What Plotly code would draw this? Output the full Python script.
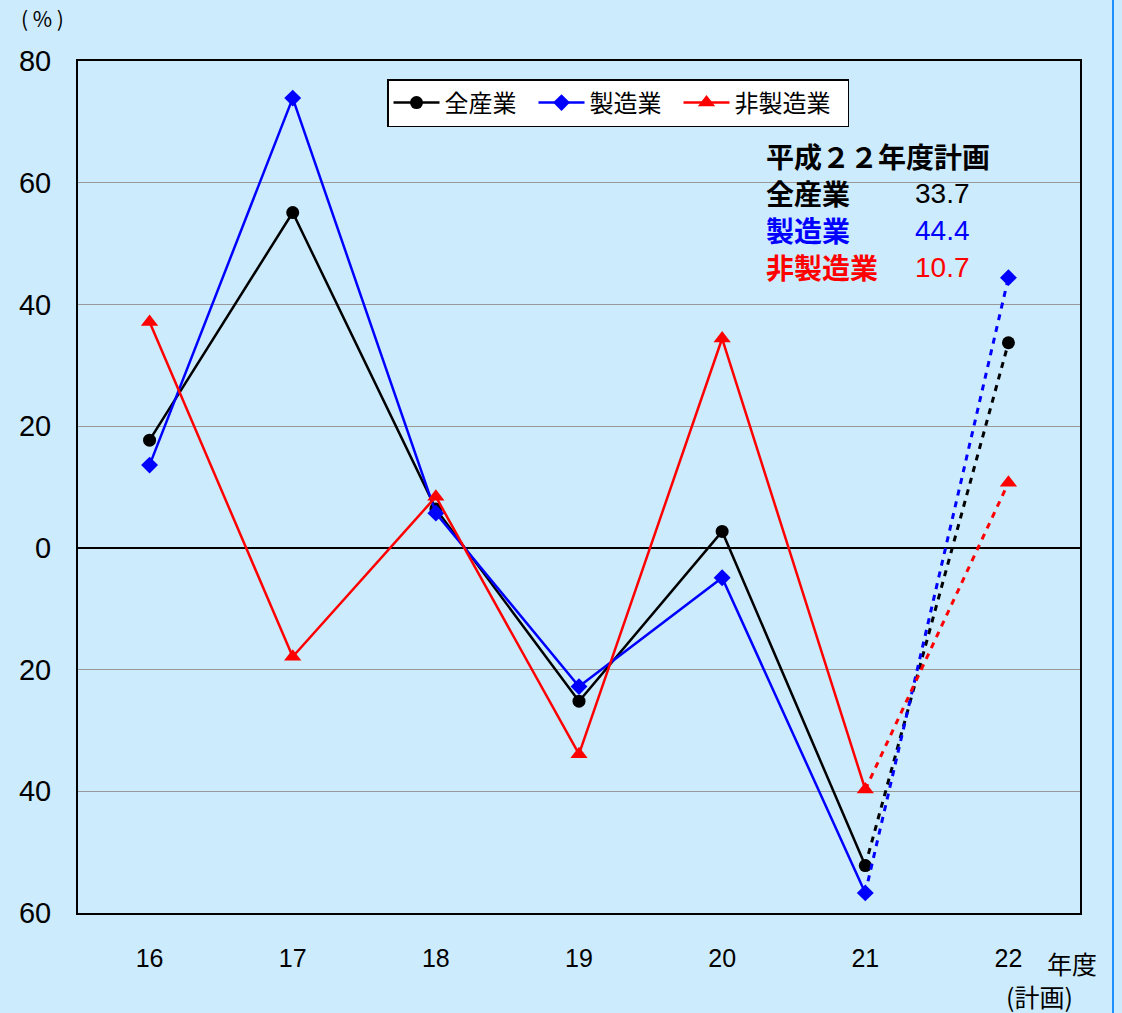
import plotly.graph_objects as go

years = [16, 17, 18, 19, 20, 21, 22]
year_labels = ["16", "17", "18", "19", "20", "21", "22"]
all_ind = [17.7, 55.1, 6.4, -25.2, 2.7, -52.2, 33.7]
mfg = [13.6, 73.9, 5.7, -22.8, -4.9, -56.7, 44.4]
nonmfg = [37.1, -17.9, 8.4, -33.9, 34.4, -39.7, 10.7]
y_ticks = [80, 60, 40, 20, 0, -20, -40, -60]
y_tick_text = ["80", "60", "40", "20", "0", "20", "40", "60"]

series = [
    ("全産業", all_ind, "#000000", "circle", 13),
    ("製造業", mfg, "#0000FF", "diamond", 13),
    ("非製造業", nonmfg, "#FF0000", "triangle-up", 15),
]

BG = "#CCEBFD"
JP = "Noto Sans CJK JP"
NUM = "Liberation Sans"

fig = go.Figure()
for name, vals, col, sym, sz in series:
    fig.add_trace(go.Scatter(
        x=years[:6], y=vals[:6], mode="lines+markers", name=name + "\u2002",
        line=dict(color=col, width=2.5),
        marker=dict(symbol=sym, size=sz, color=col),
        showlegend=True,
    ))
    fig.add_trace(go.Scatter(
        x=years[5:], y=vals[5:], mode="lines",
        line=dict(color=col, width=3, dash="6px,6px"),
        showlegend=False, hoverinfo="skip",
    ))
    fig.add_trace(go.Scatter(
        x=years[6:], y=vals[6:], mode="markers",
        marker=dict(symbol=sym, size=sz, color=col),
        showlegend=False,
    ))

L, R, T, B = 78, 42, 61, 100
W, H = 1122, 1013
pw, ph = W - L - R, H - T - B

def px(x):
    return (x - L) / pw

def py(y):
    return (H - B - y) / ph

annotations = [
    dict(text="( % )", x=px(42), y=py(18), xref="paper", yref="paper",
         showarrow=False, font=dict(family=JP, size=21, color="#000000"),
         xanchor="center", yanchor="middle", borderpad=0),
    dict(text="平成２２年度計画", x=px(765), y=py(156), xref="paper", yref="paper",
         showarrow=False, font=dict(family=JP, size=28, color="#000000", weight="bold"),
         xanchor="left", yanchor="middle", borderpad=0),
    dict(text="年度", x=px(1072), y=py(963), xref="paper", yref="paper",
         showarrow=False, font=dict(family=JP, size=25, color="#000000"),
         xanchor="center", yanchor="middle", borderpad=0),
    dict(text="(計画)", x=px(1039), y=py(996), xref="paper", yref="paper",
         showarrow=False, font=dict(family=JP, size=25, color="#000000"),
         xanchor="center", yanchor="middle", borderpad=0),
]
plan_rows = [("全産業", "33.7", "#000000", 193), ("製造業", "44.4", "#0000FF", 230),
             ("非製造業", "10.7", "#FF0000", 267)]
for lab, num, col, yy in plan_rows:
    annotations.append(dict(text=lab, x=px(765), y=py(yy), xref="paper", yref="paper",
                            showarrow=False, xanchor="left", yanchor="middle", borderpad=0,
                            font=dict(family=JP, size=28, color=col, weight="bold")))
    annotations.append(dict(text=num, x=px(914), y=py(yy), xref="paper", yref="paper",
                            showarrow=False, xanchor="left", yanchor="middle", borderpad=0,
                            font=dict(family=NUM, size=28, color=col)))

fig.update_layout(
    width=W, height=H,
    margin=dict(l=L, r=R, t=T, b=B, pad=0),
    paper_bgcolor=BG, plot_bgcolor=BG,
    font=dict(family=NUM, size=22, color="#000000"),
    showlegend=True,
    legend=dict(orientation="h", x=px(387), y=py(79), xanchor="left", yanchor="top",
                bgcolor="#FFFFFF", bordercolor="#000000", borderwidth=1.5,
                font=dict(family=JP, size=24, color="#000000"),
                itemwidth=46, tracegroupgap=0),
    annotations=annotations,
    shapes=[dict(type="line", xref="paper", yref="paper", x0=px(1113), x1=px(1113),
                 y0=py(0), y1=py(1013), line=dict(color="#1E90FF", width=2))],
    xaxis=dict(range=[15.5, 22.5], tickvals=years, ticktext=year_labels,
               showgrid=False, zeroline=False, showline=True, linecolor="#000000",
               linewidth=2, mirror=True, ticks="", ticklabelstandoff=22,
               tickfont=dict(family=NUM, size=25)),
    yaxis=dict(range=[-60, 80], tickvals=y_ticks, ticktext=y_tick_text,
               showgrid=True, gridcolor="#999999", gridwidth=1,
               zeroline=True, zerolinecolor="#000000", zerolinewidth=1.5,
               showline=True, linecolor="#000000", linewidth=2, mirror=True,
               ticks="", ticklabelstandoff=19, tickfont=dict(family=NUM, size=29)),
)

fig.write_html("out.html")
